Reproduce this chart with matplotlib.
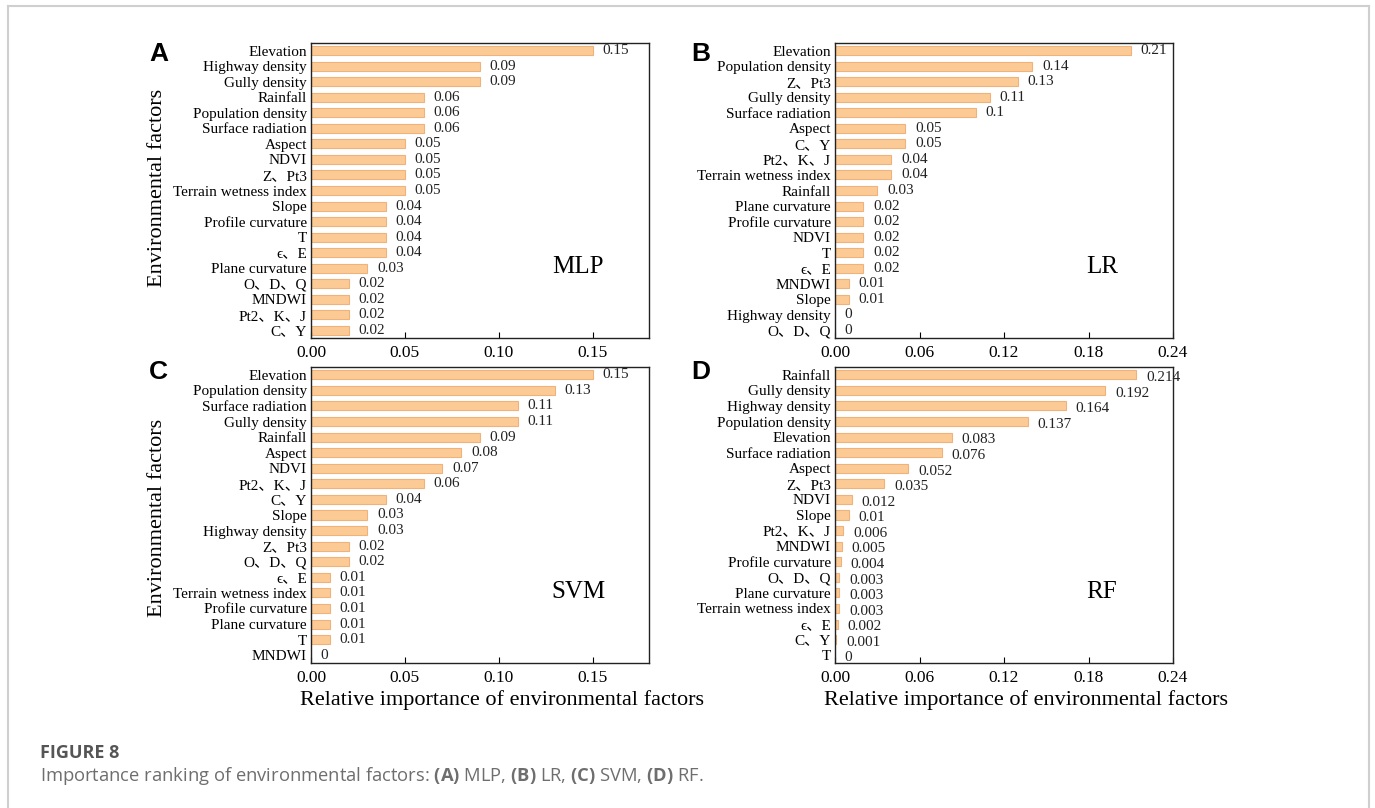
import matplotlib.pyplot as plt
from matplotlib.lines import Line2D

plt.rcParams["mathtext.fontset"] = "custom"
plt.rcParams["mathtext.bf"] = "Open Sans:bold"
plt.rcParams["mathtext.rm"] = "Open Sans"

# Factor names and importance values, listed top to bottom as shown
mlp_factors = ["Elevation", "Highway density", "Gully density", "Rainfall",
               "Population density", "Surface radiation", "Aspect", "NDVI",
               "Z、Pt3", "Terrain wetness index", "Slope", "Profile curvature",
               "T", "ϵ、E", "Plane curvature", "O、D、Q", "MNDWI",
               "Pt2、K、J", "C、Y"]
mlp_values = [0.15, 0.09, 0.09, 0.06, 0.06, 0.06, 0.05, 0.05, 0.05, 0.05,
              0.04, 0.04, 0.04, 0.04, 0.03, 0.02, 0.02, 0.02, 0.02]
mlp_labels = ["0.15", "0.09", "0.09", "0.06", "0.06", "0.06", "0.05", "0.05",
              "0.05", "0.05", "0.04", "0.04", "0.04", "0.04", "0.03", "0.02",
              "0.02", "0.02", "0.02"]

lr_factors = ["Elevation", "Population density", "Z、Pt3", "Gully density",
              "Surface radiation", "Aspect", "C、Y", "Pt2、K、J",
              "Terrain wetness index", "Rainfall", "Plane curvature",
              "Profile curvature", "NDVI", "T", "ϵ、E", "MNDWI", "Slope",
              "Highway density", "O、D、Q"]
lr_values = [0.21, 0.14, 0.13, 0.11, 0.10, 0.05, 0.05, 0.04, 0.04, 0.03,
             0.02, 0.02, 0.02, 0.02, 0.02, 0.01, 0.01, 0.0, 0.0]
lr_labels = ["0.21", "0.14", "0.13", "0.11", "0.1", "0.05", "0.05", "0.04",
             "0.04", "0.03", "0.02", "0.02", "0.02", "0.02", "0.02", "0.01",
             "0.01", "0", "0"]

svm_factors = ["Elevation", "Population density", "Surface radiation",
               "Gully density", "Rainfall", "Aspect", "NDVI", "Pt2、K、J",
               "C、Y", "Slope", "Highway density", "Z、Pt3", "O、D、Q",
               "ϵ、E", "Terrain wetness index", "Profile curvature",
               "Plane curvature", "T", "MNDWI"]
svm_values = [0.15, 0.13, 0.11, 0.11, 0.09, 0.08, 0.07, 0.06, 0.04, 0.03,
              0.03, 0.02, 0.02, 0.01, 0.01, 0.01, 0.01, 0.01, 0.0]
svm_labels = ["0.15", "0.13", "0.11", "0.11", "0.09", "0.08", "0.07", "0.06",
              "0.04", "0.03", "0.03", "0.02", "0.02", "0.01", "0.01", "0.01",
              "0.01", "0.01", "0"]

rf_factors = ["Rainfall", "Gully density", "Highway density",
              "Population density", "Elevation", "Surface radiation",
              "Aspect", "Z、Pt3", "NDVI", "Slope", "Pt2、K、J", "MNDWI",
              "Profile curvature", "O、D、Q", "Plane curvature",
              "Terrain wetness index", "ϵ、E", "C、Y", "T"]
rf_values = [0.214, 0.192, 0.164, 0.137, 0.083, 0.076, 0.052, 0.035, 0.012,
             0.01, 0.006, 0.005, 0.004, 0.003, 0.003, 0.003, 0.002, 0.001, 0.0]
rf_labels = ["0.214", "0.192", "0.164", "0.137", "0.083", "0.076", "0.052",
             "0.035", "0.012", "0.01", "0.006", "0.005", "0.004", "0.003",
             "0.003", "0.003", "0.002", "0.001", "0"]

W, H = 1375, 808
fig = plt.figure(figsize=(W / 100, H / 100), dpi=100)

serif = ["Liberation Serif", "Noto Sans CJK SC", "DejaVu Sans"]
bar_face = "#fccb95"
bar_edge = "#eeb27a"


def px_axes(x0, y0, x1, y1):
    return fig.add_axes([x0 / W, 1 - y1 / H, (x1 - x0) / W, (y1 - y0) / H])


def panel(ax, factors, values, labels, xmax, ticks, ticklabels, model, dy=0):
    n = len(factors)
    pos = list(range(n - 1, -1, -1))
    ax.barh(pos, values, height=0.58, color=bar_face, edgecolor=bar_edge,
            linewidth=0.8)
    for p, v, t in zip(pos, values, labels):
        ax.annotate(t, (v, p), xytext=(7, dy), textcoords="offset points",
                    va="center", ha="left", fontsize=11, family=serif,
                    color="#222222")
    ax.set_ylim(-0.5, n - 0.5)
    ax.set_xlim(0, xmax)
    ax.set_yticks(pos)
    ax.set_yticklabels(factors, family=serif, fontsize=11)
    ax.set_xticks(ticks)
    ax.set_xticklabels(ticklabels, family=serif, fontsize=12.5)
    ax.tick_params(axis="y", length=0, pad=3)
    ax.tick_params(axis="x", direction="in", length=4, pad=5)
    for s in ax.spines.values():
        s.set_linewidth(1.0)
        s.set_color("#222222")
    ax.text(0.79, 0.24, model, transform=ax.transAxes, ha="center",
            va="center", fontsize=18, family=serif)


axA = px_axes(311, 43, 649, 338)
axB = px_axes(835, 43, 1173, 338)
axC = px_axes(311, 367, 649, 663)
axD = px_axes(835, 367, 1173, 663)

t18 = [0.0, 0.05, 0.10, 0.15]
t18l = ["0.00", "0.05", "0.10", "0.15"]
t24 = [0.0, 0.06, 0.12, 0.18, 0.24]
t24l = ["0.00", "0.06", "0.12", "0.18", "0.24"]

panel(axA, mlp_factors, mlp_values, mlp_labels, 0.18, t18, t18l, "MLP")
panel(axB, lr_factors, lr_values, lr_labels, 0.24, t24, t24l, "LR")
panel(axC, svm_factors, svm_values, svm_labels, 0.18, t18, t18l, "SVM")
panel(axD, rf_factors, rf_values, rf_labels, 0.24, t24, t24l, "RF", dy=-2)

# y axis labels
for yc in (188, 518):
    fig.text(157 / W, 1 - yc / H, "Environmental factors", rotation=90,
             ha="center", va="center", fontsize=16, family=serif)

# x axis labels
for xc in (502, 1026):
    fig.text(xc / W, 1 - 700 / H, "Relative importance of environmental factors",
             ha="center", va="center", fontsize=16, family=serif)

# panel letters
for letter, x, y in (("A", 149, 54), ("B", 691, 54), ("C", 149, 372), ("D", 691, 372)):
    fig.text(x / W, 1 - y / H, letter, ha="left", va="center", fontsize=19,
             fontweight="bold", family="Liberation Sans")

# page frame (left, top, right)
frame = dict(color="#cfcfcf", linewidth=1.5, transform=fig.transFigure)
fig.add_artist(Line2D([8 / W, 8 / W], [0, 1 - 6 / H], **frame))
fig.add_artist(Line2D([8 / W, 1369 / W], [1 - 6 / H, 1 - 6 / H], **frame))
fig.add_artist(Line2D([1369 / W, 1369 / W], [0, 1 - 6 / H], **frame))

# caption
fig.text(40 / W, 1 - 753 / H, "FIGURE 8", fontsize=13, fontweight="bold",
         color="#555555", family="Open Sans", va="center")
fig.text(40 / W, 1 - 776 / H,
         r"Importance ranking of environmental factors: $\mathbf{(A)}$ MLP, "
         r"$\mathbf{(B)}$ LR, $\mathbf{(C)}$ SVM, $\mathbf{(D)}$ RF.",
         fontsize=13.2, color="#6e6e6e", family="Open Sans", va="center")

fig.savefig("out.png", dpi=100)
